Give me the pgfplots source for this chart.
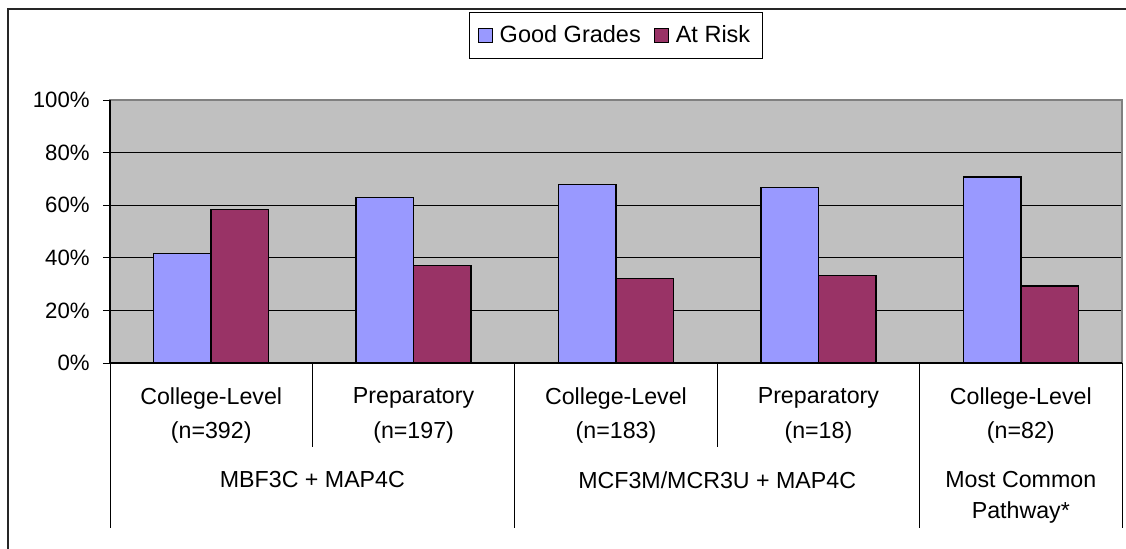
\documentclass[border=0pt]{standalone}
\usepackage{pgfplots}
\pgfplotsset{compat=1.18}
\usepackage{fontspec}
\setmainfont{Liberation Sans}
\definecolor{goodc}{HTML}{9999FF}
\definecolor{riskc}{HTML}{993366}
\definecolor{plotbg}{HTML}{C0C0C0}
\definecolor{bordergray}{HTML}{808080}
\begin{document}
\begin{tikzpicture}
\path[use as bounding box] (-55pt,-92.5pt) rectangle (508pt,181.5pt);
\draw[line width=0.6pt, black!85] (-51pt,-95pt) -- (-51pt,177pt) -- (512pt,177pt);
\begin{axis}[
  at={(0,0)}, anchor=south west,
  scale only axis,
  width=506pt, height=131.5pt,
  xmin=0, xmax=5, ymin=0, ymax=100,
  xtick=\empty,
  ytick={0,20,40,60,80,100},
  yticklabels={0\%,20\%,40\%,60\%,80\%,100\%},
  ytick pos=left,
  tick align=outside,
  major tick length=3.5pt,
  tick style={black, line width=0.5pt},
  yticklabel style={font=\fontsize{11.1}{12}\selectfont, inner sep=0pt, xshift=-6.5pt},
  ymajorgrids,
  grid style={black, line width=0.5pt},
  axis line style={bordergray, line width=0.8pt},
  axis background/.style={fill=plotbg},
  clip=false,
  legend columns=2,
  legend style={at={(0.5,1.245)}, anchor=center, draw=black, line width=0.5pt, fill=white,
    font=\fontsize{11.75}{13}\selectfont, inner xsep=4pt, inner ysep=4.5pt,
    nodes={inner xsep=2pt},
    /tikz/every odd column/.append style={column sep=1.5pt},
    /tikz/every even column/.append style={column sep=4.5pt}},
  legend image code/.code={\draw[#1, draw=black, line width=0.5pt] (0pt,-3.5pt) rectangle (7pt,3.5pt);},
]
\addplot[ybar, bar width=0.284, bar shift=-0.142, fill=goodc, draw=black, line width=0.75pt]
  coordinates {(0.5,41.6) (1.5,62.9) (2.5,67.8) (3.5,66.7) (4.5,70.7)};
\addlegendentry{Good Grades}
\addplot[ybar, bar width=0.284, bar shift=0.142, fill=riskc, draw=black, line width=0.75pt]
  coordinates {(0.5,58.4) (1.5,37.1) (2.5,32.2) (3.5,33.3) (4.5,29.3)};
\addlegendentry{At Risk}
% black left and bottom axis lines
\draw[black, line width=0.6pt] (rel axis cs:0,1) -- (rel axis cs:0,0) -- (rel axis cs:1,0);
% category separators
\draw[black, line width=0.5pt] (axis cs:1,0) -- ++(0,-42pt);
\draw[black, line width=0.5pt] (axis cs:3,0) -- ++(0,-42pt);
\draw[black, line width=0.5pt] (axis cs:0,0) -- ++(0,-82.5pt);
\draw[black, line width=0.5pt] (axis cs:2,0) -- ++(0,-82.5pt);
\draw[black, line width=0.5pt] (axis cs:4,0) -- ++(0,-82.5pt);
\draw[black, line width=0.5pt] (axis cs:5,0) -- ++(0,-82.5pt);
% category labels
\begin{scope}[every node/.style={font=\fontsize{11.6}{12}\selectfont, inner sep=0pt}]
\node at (axis cs:0.5,0) [yshift=-17.5pt] {College-Level};
\node at (axis cs:0.5,0) [yshift=-34.5pt] {(n=392)};
\node at (axis cs:1.5,0) [yshift=-17.5pt] {Preparatory};
\node at (axis cs:1.5,0) [yshift=-34.5pt] {(n=197)};
\node at (axis cs:2.5,0) [yshift=-17.5pt] {College-Level};
\node at (axis cs:2.5,0) [yshift=-34.5pt] {(n=183)};
\node at (axis cs:3.5,0) [yshift=-17.5pt] {Preparatory};
\node at (axis cs:3.5,0) [yshift=-34.5pt] {(n=18)};
\node at (axis cs:4.5,0) [yshift=-17.5pt] {College-Level};
\node at (axis cs:4.5,0) [yshift=-34.5pt] {(n=82)};
\node at (axis cs:1,0) [yshift=-58.5pt] {MBF3C + MAP4C};
\node at (axis cs:3,0) [yshift=-58.5pt] {MCF3M/MCR3U + MAP4C};
\node at (axis cs:4.5,0) [yshift=-58.5pt] {Most Common};
\node at (axis cs:4.5,0) [yshift=-74.5pt] {Pathway*};
\end{scope}
\end{axis}
\end{tikzpicture}
\end{document}
